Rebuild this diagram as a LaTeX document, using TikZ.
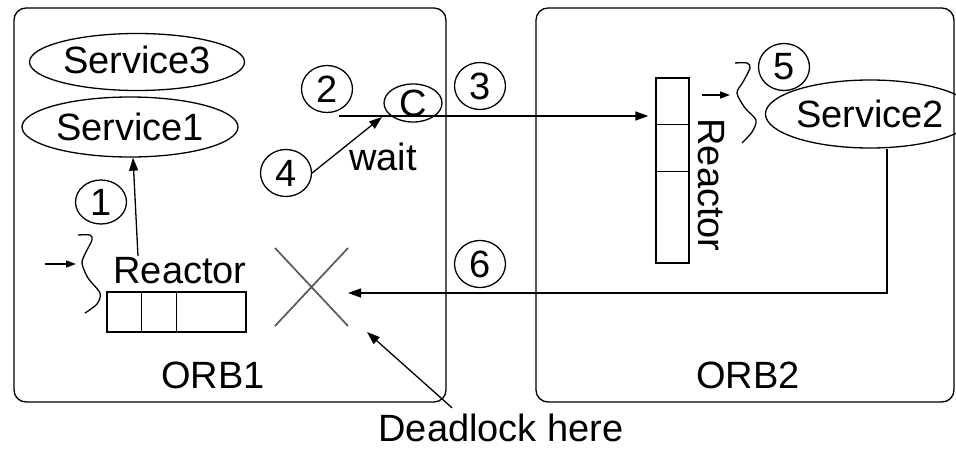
\documentclass[tikz,border=0pt]{standalone}
\usepackage{fontspec}
\setmainfont{Liberation Sans}
\usetikzlibrary{arrows.meta,shapes.geometric}

\tikzset{
  orb/.style={rounded corners=12pt},
  svc/.style={draw,ellipse,inner sep=0pt,text depth=0.07em},
  num/.style={draw,ellipse,inner sep=0pt,minimum width=51pt,minimum height=47pt},
  queue/.style={draw,inner sep=0pt},
  msg/.style={-{Triangle[length=13pt,width=9pt]}},
  ev/.style={-{Triangle[length=10pt,width=7pt]}},
}

\begin{document}
\begin{tikzpicture}[x=1pt,y=-1pt,line width=1.3pt,
    every node/.style={font=\fontsize{38}{44}\selectfont}]
        \useasboundingbox (0,0) rectangle (956,450);
        % the two ORBs
        \draw[orb] (14,8) rectangle (446,402);
        \draw[orb] (536,8) rectangle (954,402);
        \node[anchor=base] (orbone) at (213,388) {ORB1};
        \node[anchor=base] (orbtwo) at (748,388) {ORB2};

        % ORB1: services, reactor and its queue
        \node[svc,text depth=0.42em,minimum width=215pt,minimum height=57pt] (svcthree) at (137,62) {Service3};
        \node[svc,minimum width=216pt,minimum height=60pt] (svcone) at (130,127) {Service1};
        \node[anchor=base,inner sep=0pt] (rone) at (180,283) {Reactor};
        \node[queue,minimum width=139pt,minimum height=40pt] (qone) at (176.5,312) {};
        \foreach \d in {35,70}
            \draw ([xshift=\d]qone.north west) -- ([xshift=\d]qone.south west);
        \draw plot[smooth] coordinates {(78,235) (90,235) (92,240) (86,252) (82,263)
            (88,278) (100,293) (97,304) (85,313)};
        \coordinate (evone) at (45,264);
        \coordinate (brone) at (76,264);
        \draw[ev] (evone) -- (brone);

        % client stub and the blocked call
        \node[draw,ellipse,inner sep=0pt,minimum width=58pt,minimum height=35pt] (stub) at (413,103) {C};
        \node[anchor=base] (wt) at (383,170) {wait};
        \coordinate (req) at (339,116);
        \coordinate (stubin) at (382,117);

        % ORB2: service, reactor and its queue
        \node[svc,minimum width=175pt,minimum height=68pt] (svctwo) at (870,114) {Service2};
        \node[queue,minimum width=33pt,minimum height=185pt] (qtwo) at (672.5,170.5) {};
        \foreach \d in {47,94}
            \draw ([yshift=-\d]qtwo.north west) -- ([yshift=-\d]qtwo.north east);
        \node[rotate=-90,anchor=base,inner sep=0pt] (rtwo) at (698,185) {Reactor};
        \draw plot[smooth] coordinates {(735,63) (747,63) (750,68) (743,82) (737,93)
            (745,108) (756,120) (752,132) (742,143)};
        \coordinate (evtwo) at (702,95);
        \coordinate (brtwo) at (730,95);
        \draw[ev] (evtwo) -- (brtwo);

        % the numbered steps
        \node[num,minimum height=44pt] (n1) at (101,202) {1};
        \node[num] (n2) at (327,89) {2};
        \node[num] (n3) at (480,86) {3};
        \node[num] (n4) at (286,173) {4};
        \node[num] (n5) at (784,67) {5};
        \node[num] (n6) at (480,264) {6};

        % deadlock
        \draw[black!65,line width=1.7pt] (275,248) -- (348,326) (275,326) -- (348,248);
        \coordinate (lock) at (348,293);
        \coordinate (lockin) at (367,332);
        \node[anchor=base,inner sep=0pt] (dl) at (501,441) {Deadlock here};

        % messages
        \draw[msg] ([xshift=-42pt]rone.north) -- ([xshift=3pt]svcone.south);
        \draw[msg,shorten >=7pt] (req) -- (qtwo.west |- req);
        \draw[msg] (n4.east) -- (stubin);
        \draw[msg] ([xshift=17pt]svctwo.south) |- (lock);
        \draw[msg] ([shift={(-49pt,5pt)}]dl.north) -- (lockin);
\end{tikzpicture}
\end{document}
